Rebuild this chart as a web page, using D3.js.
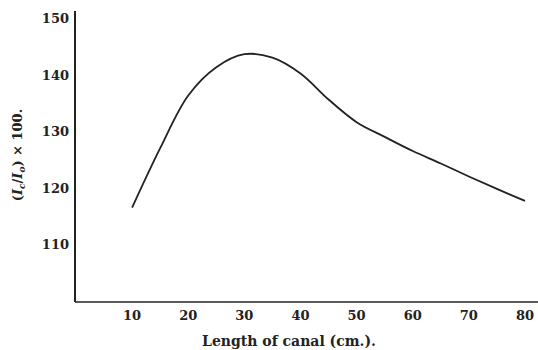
<!DOCTYPE html>
<html>
<head>
<meta charset="utf-8">
<script src="https://cdn.jsdelivr.net/npm/d3@7"></script>
<style>
  body { margin: 0; background: #fff; }
  text { font-family: "DejaVu Serif", "Liberation Serif", serif; fill: #222; }
</style>
</head>
<body>
<div id="chart"></div>
<script>
// canal length (cm.) and (Ic/Io) x 100
var lengths = [10, 15, 20, 25, 30, 35, 40, 45, 50, 55, 60, 65, 70, 75, 80];
var ratios  = [116.5, 127, 136.3, 141.3, 143.6, 143.0, 140.2, 135.6, 131.6, 129, 126.5, 124.3, 122, 119.8, 117.7];
var xTicks = [10, 20, 30, 40, 50, 60, 70, 80];
var yTicks = [110, 120, 130, 140, 150];

var width = 538, height = 350;
var svg = d3.select("#chart").append("svg")
    .attr("width", width)
    .attr("height", height);

var x = d3.scaleLinear().domain([0, 80]).range([76, 525]);
var y = d3.scaleLinear().domain([100, 150]).range([301, 18]);

// axes lines
svg.append("line")
    .attr("x1", 75).attr("x2", 75)
    .attr("y1", 11).attr("y2", 302)
    .attr("stroke", "#222").attr("stroke-width", 2);
svg.append("line")
    .attr("x1", 75).attr("x2", 538)
    .attr("y1", 302).attr("y2", 302)
    .attr("stroke", "#222").attr("stroke-width", 1.6);

// y tick labels
svg.selectAll(".ylab").data(yTicks).enter().append("text")
    .attr("class", "ylab")
    .attr("x", 69)
    .attr("y", d => y(d) + 5)
    .attr("text-anchor", "end")
    .attr("font-size", 13)
    .attr("font-weight", "bold")
    .text(d => d);

// x tick labels
svg.selectAll(".xlab").data(xTicks).enter().append("text")
    .attr("class", "xlab")
    .attr("x", d => x(d))
    .attr("y", 320)
    .attr("text-anchor", "middle")
    .attr("font-size", 13)
    .attr("font-weight", "bold")
    .text(d => d);

// axis titles
svg.append("text")
    .attr("x", 289).attr("y", 346)
    .attr("text-anchor", "middle")
    .attr("font-size", 14)
    .attr("font-weight", "bold")
    .text("Length of canal (cm.).");

var yt = svg.append("text")
    .attr("transform", "translate(22,155) rotate(-90)")
    .attr("text-anchor", "middle")
    .attr("font-size", 13)
    .attr("font-weight", "bold");
yt.append("tspan").text("(");
yt.append("tspan").attr("font-style", "italic").text("I");
yt.append("tspan").attr("font-style", "italic").attr("font-size", 9).attr("dy", 3).text("c");
yt.append("tspan").attr("dy", -3).text("/");
yt.append("tspan").attr("font-style", "italic").text("I");
yt.append("tspan").attr("font-style", "italic").attr("font-size", 9).attr("dy", 3).text("o");
yt.append("tspan").attr("dy", -3).text(") \u00d7 100.");

// the curve
var pts = lengths.map((l, i) => [l, ratios[i]]);
var line = d3.line()
    .x(d => x(d[0]))
    .y(d => y(d[1]))
    .curve(d3.curveCatmullRom);

svg.append("path")
    .datum(pts)
    .attr("d", line)
    .attr("fill", "none")
    .attr("stroke", "#222")
    .attr("stroke-width", 1.8);
</script>
</body>
</html>
